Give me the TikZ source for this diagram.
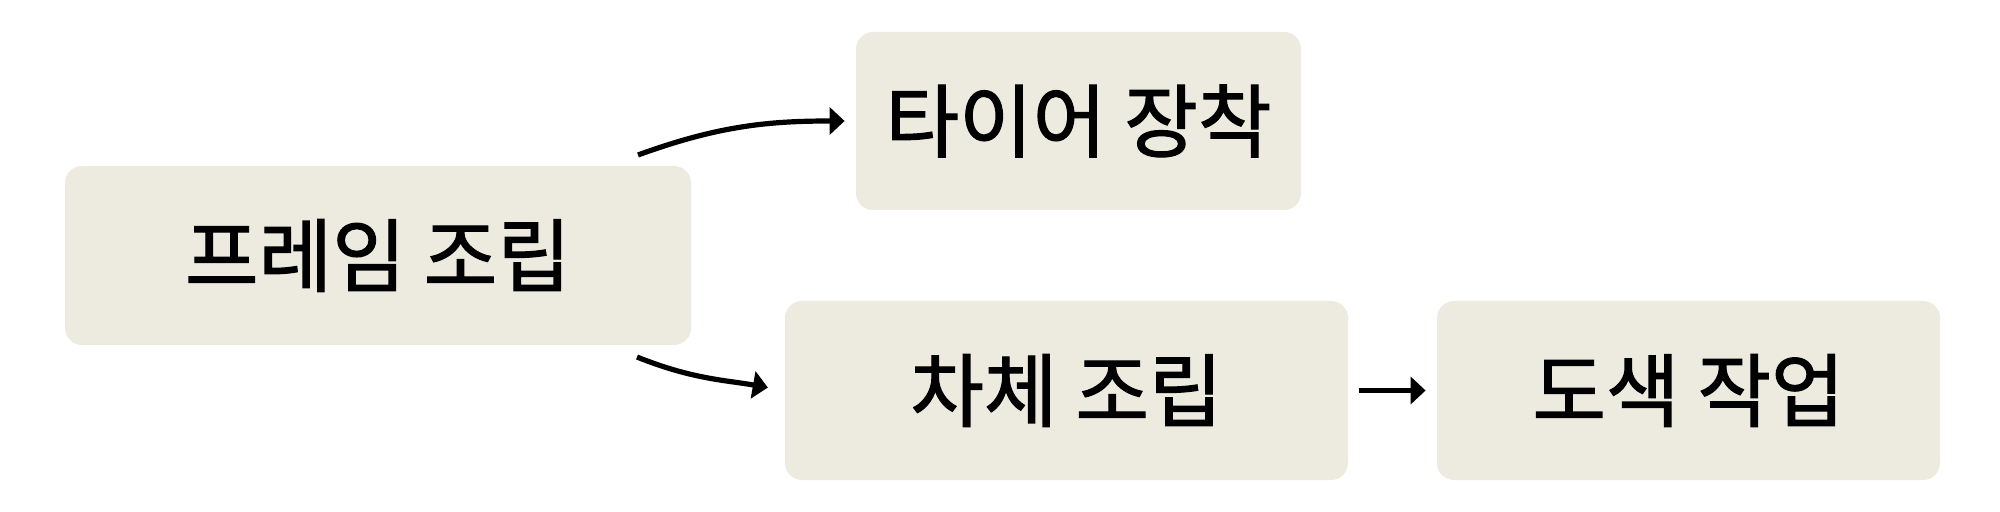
\documentclass[tikz,border=0pt]{standalone}
\usepackage{fontspec}
\newfontfamily\kr[FakeBold=1.5]{Noto Sans CJK KR}
\usetikzlibrary{arrows.meta}
\definecolor{boxfill}{HTML}{EDEAE0}
\begin{document}
\begin{tikzpicture}[x=0.5pt,y=-0.5pt,
  box/.style={fill=boxfill,rounded corners=8.5pt,inner sep=0pt,
    font=\kr\fontsize{40}{48}\selectfont,text=black},
  conn/.style={line width=2.6pt,-{Triangle[length=7.5pt,width=13.5pt]}}]
\useasboundingbox[fill=white] (0,0) rectangle (2000,512);
\node[box,minimum width=313pt,minimum height=89.5pt] (A) at (378,255.5) {프레임 조립};
\node[box,minimum width=222.5pt,minimum height=89pt] (B) at (1078.5,121) {타이어 장착};
\node[box,minimum width=281.5pt,minimum height=89.5pt] (C) at (1066.5,390.5) {차체 조립};
\node[box,minimum width=251.5pt,minimum height=89.5pt] (D) at (1688.5,390.5) {도색 작업};
\coordinate (a1) at (638,155);
\coordinate (a2) at (637,357);
\draw[conn,shorten >=5.5pt] (a1) to[out=20,in=180] (B.west);
\draw[conn,shorten >=8.5pt] (a2) to[out=-22,in=170] (C.west);
\draw[conn,shorten <=5.5pt,shorten >=5.5pt] (C.east) -- (D.west);
\end{tikzpicture}
\end{document}
